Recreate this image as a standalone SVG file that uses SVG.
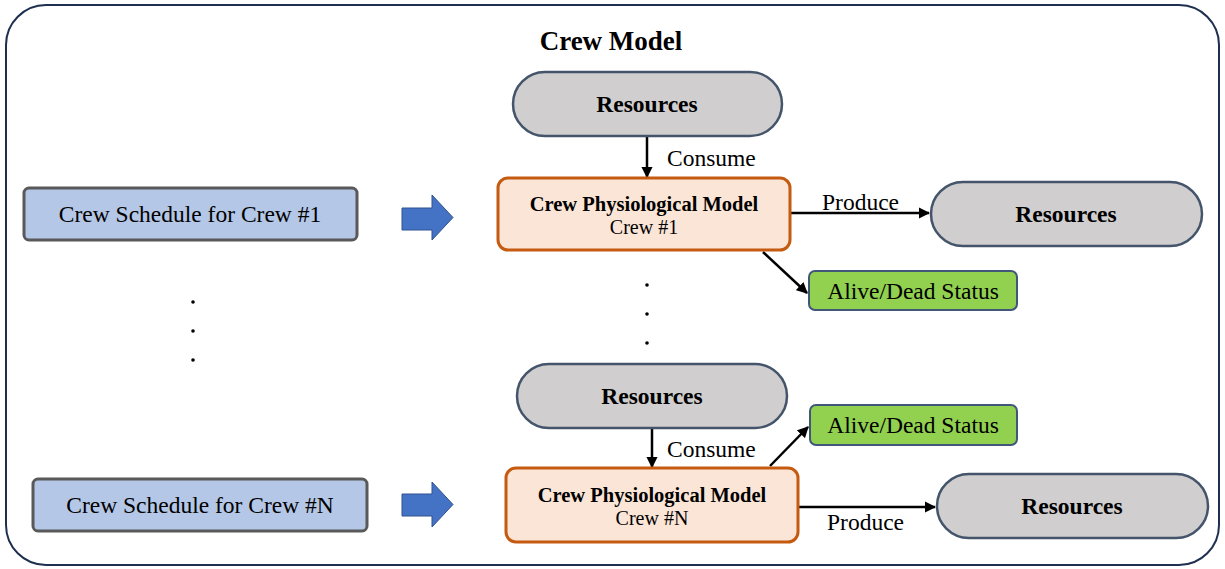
<svg xmlns="http://www.w3.org/2000/svg" width="1225" height="569" viewBox="0 0 1225 569">
<style>
text{font-family:"Liberation Serif","Times New Roman",serif;fill:#000}
.pill{fill:#d0cece;stroke:#44546a;stroke-width:2.5}
.pm{fill:#fbe5d6;stroke:#c55a11;stroke-width:3}
.sch{fill:#b4c7e7;stroke:#595959;stroke-width:3}
.ad{fill:#92d050;stroke:#41577a;stroke-width:2}
.blk{fill:#4472c4;stroke:#2f528f;stroke-width:1}
.con{stroke:#000;stroke-width:2.5;fill:none;marker-end:url(#ah)}
.rb{font-size:23.5px;font-weight:bold}
.pb{font-size:20.5px;font-weight:bold}
.c{font-size:20px}
.n{font-size:23.5px}
.dot{fill:#000}
</style>
<defs>
<marker id="ah" viewBox="0 0 10 10" refX="9" refY="5" markerWidth="4.5" markerHeight="4.5" orient="auto" markerUnits="strokeWidth">
<path d="M0,0 L10,5 L0,10 Z" fill="#000"/>
</marker>
</defs>
<rect x="6" y="5" width="1213" height="560" rx="40" fill="#fff" stroke="#1f2f4f" stroke-width="2"/>
<text x="611" y="50" text-anchor="middle" font-size="27" font-weight="bold">Crew Model</text>

<g id="connectors">
<line class="con" x1="647" y1="137" x2="647" y2="177"/>
<line class="con" x1="790" y1="213" x2="929" y2="213"/>
<line class="con" x1="763" y1="252" x2="807" y2="293"/>
<line class="con" x1="652" y1="429" x2="652" y2="467"/>
<line class="con" x1="770" y1="466" x2="808" y2="427"/>
<line class="con" x1="798" y1="507" x2="935" y2="507"/>
<text x="667" y="166" class="n">Consume</text>
<text x="822" y="210" class="n">Produce</text>
<text x="667" y="457" class="n">Consume</text>
<text x="827" y="530" class="n">Produce</text>
</g>

<g id="res1"><rect class="pill" x="513" y="72" width="269" height="64" rx="32"/><text class="rb" x="647" y="112" text-anchor="middle">Resources</text></g>
<g id="pm1"><rect class="pm" x="498" y="178" width="292" height="72" rx="10"/><text class="pb" x="644" y="211" text-anchor="middle">Crew Physiological Model</text><text class="c" x="644" y="234" text-anchor="middle">Crew #1</text></g>
<g id="sch1"><rect class="sch" x="24" y="188" width="333" height="52" rx="5"/><text class="n" x="190" y="222" text-anchor="middle">Crew Schedule for Crew #1</text></g>
<g id="blk1"><path class="blk" d="M402,208 H432 V195 L453,217.5 L432,240 V230 H402 Z"/></g>
<g id="res1out"><rect class="pill" x="931" y="182" width="271" height="64" rx="32"/><text class="rb" x="1066" y="222" text-anchor="middle">Resources</text></g>
<g id="ad1"><rect class="ad" x="809" y="271" width="208" height="39" rx="6"/><text class="n" x="913" y="299" text-anchor="middle">Alive/Dead Status</text></g>

<g id="dots">
<circle class="dot" cx="193" cy="302" r="1.8"/><circle class="dot" cx="193" cy="331" r="1.8"/><circle class="dot" cx="193" cy="360" r="1.8"/>
<circle class="dot" cx="647" cy="285" r="1.8"/><circle class="dot" cx="647" cy="314" r="1.8"/><circle class="dot" cx="647" cy="343" r="1.8"/>
</g>

<g id="res2"><rect class="pill" x="517" y="364" width="270" height="64" rx="32"/><text class="rb" x="652" y="404" text-anchor="middle">Resources</text></g>
<g id="ad2"><rect class="ad" x="810" y="405" width="207" height="40" rx="6"/><text class="n" x="913" y="433" text-anchor="middle">Alive/Dead Status</text></g>
<g id="pmN"><rect class="pm" x="506" y="468" width="292" height="74" rx="10"/><text class="pb" x="652" y="502" text-anchor="middle">Crew Physiological Model</text><text class="c" x="652" y="525" text-anchor="middle">Crew #N</text></g>
<g id="schN"><rect class="sch" x="33" y="479" width="334" height="52" rx="5"/><text class="n" x="200" y="513" text-anchor="middle">Crew Schedule for Crew #N</text></g>
<g id="blkN"><path class="blk" d="M402,494 H432 V482 L453,504.5 L432,527 V516 H402 Z"/></g>
<g id="res2out"><rect class="pill" x="937" y="474" width="271" height="64" rx="32"/><text class="rb" x="1072" y="514" text-anchor="middle">Resources</text></g>
</svg>
